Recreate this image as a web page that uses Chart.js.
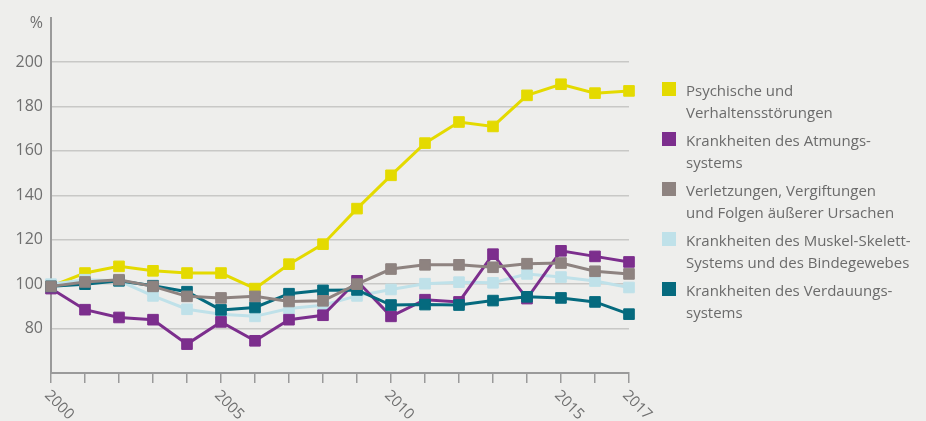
<!DOCTYPE html>
<html lang="de">
<head>
  <meta charset="UTF-8">
  <title>Arbeitsunfähigkeit nach Diagnosen</title>
  <script src="https://cdn.jsdelivr.net/npm/chart.js"></script>
  <style>
    html, body { margin: 0; padding: 0; background: #eeeeec; }
    #wrap { position: relative; width: 926px; height: 421px; font-family: "Open Sans", sans-serif; }
    #legend { position: absolute; left: 662px; top: 79px; color: #6b6b6b; font-size: 15px; }
    .item { position: relative; height: 44px; margin-bottom: 6px; padding-left: 24px; line-height: 22px; white-space: nowrap; }
    .box { position: absolute; left: 0; top: 3px; width: 14px; height: 14px; }
  </style>
</head>
<body>
<div id="wrap">
  <canvas id="chart" width="926" height="421"></canvas>
  <div id="legend"></div>
</div>
<script>
  const years = ['2000','2001','2002','2003','2004','2005','2006','2007','2008',
                 '2009','2010','2011','2012','2013','2014','2015','2016','2017'];
  const xTickLabels = ['2000', '2005', '2010', '2015', '2017'];

  const psychisch  = [99, 105, 108, 106, 105, 105, 98, 109, 118, 134, 149, 163.5, 173, 171, 185, 190, 186, 187];
  const atmung     = [98, 88.5, 85, 84, 73, 83, 74.5, 84, 86, 101.5, 85.5, 93, 92, 113.5, 93.5, 115, 112.5, 110];
  const verletzung = [99, 101, 102, 99, 94.5, 93.8, 94.5, 92.2, 92.5, 100, 106.8, 108.7, 108.7, 107.6, 109.2, 109.5, 105.8, 104.6];
  const muskel     = [100, 102, 101.5, 94.7, 88.7, 86.5, 85.5, 89, 90.5, 94.7, 97.6, 100.2, 100.9, 100.6, 104.6, 103.2, 101.4, 98.5];
  const verdauung  = [99, 100, 101.5, 99.3, 96.6, 88.4, 89.5, 95.7, 97.2, 97.4, 90.6, 90.8, 90.6, 92.6, 94.3, 93.8, 92, 86.5];

  const series = [
    { label: ['Psychische und', 'Verhaltensstörungen'], data: psychisch, color: '#e4da00', order: 4 },
    { label: ['Krankheiten des Atmungs-', 'systems'], data: atmung, color: '#7c2e8d', order: 2 },
    { label: ['Verletzungen, Vergiftungen', 'und Folgen äußerer Ursachen'], data: verletzung, color: '#8e8380', order: 0 },
    { label: ['Krankheiten des Muskel-Skelett-', 'Systems und des Bindegewebes'], data: muskel, color: '#bfe1e9', order: 3 },
    { label: ['Krankheiten des Verdauungs-', 'systems'], data: verdauung, color: '#056a7e', order: 1 }
  ];

  // legende als html, weil mehrzeilig
  const legend = document.getElementById('legend');
  series.forEach(s => {
    const div = document.createElement('div');
    div.className = 'item';
    div.innerHTML = '<span class="box" style="background:' + s.color + '"></span>' + s.label.join('<br>');
    legend.appendChild(div);
  });

  const extraLabels = {
    id: 'extraLabels',
    afterDraw(chart) {
      const ctx = chart.ctx;
      const x = chart.scales.x, y = chart.scales.y;
      ctx.save();
      ctx.fillStyle = '#6f6f6f';
      ctx.font = '16px "Open Sans"';
      ctx.textAlign = 'right';
      ctx.textBaseline = 'middle';
      ctx.fillText('%', y.right - 8, y.getPixelForValue(220) + 6);
      ctx.font = '15px "Open Sans"';
      ctx.textAlign = 'left';
      xTickLabels.forEach(l => {
        const px = x.getPixelForValue(years.indexOf(l));
        ctx.save();
        ctx.translate(px - 4, x.top + 20);
        ctx.rotate(Math.PI / 4);
        ctx.fillText(l, 0, 0);
        ctx.restore();
      });
      ctx.restore();
    }
  };

  new Chart(document.getElementById('chart'), {
    type: 'line',
    data: {
      labels: years,
      datasets: series.map(s => ({
        label: s.label.join(' '),
        data: s.data,
        order: s.order,
        borderColor: s.color,
        backgroundColor: s.color,
        borderWidth: 3,
        pointStyle: 'rect',
        pointRadius: 7.5,
        pointBorderWidth: 1,
        clip: false
      }))
    },
    options: {
      responsive: false,
      animation: false,
      layout: { padding: { top: 13, right: 297 } },
      plugins: { legend: { display: false }, tooltip: { enabled: false } },
      scales: {
        x: {
          offset: false,
          afterFit: s => { s.height = 48; },
          border: { color: '#9a9a9a', width: 2 },
          grid: { drawOnChartArea: false, tickLength: 10, color: '#9a9a9a', lineWidth: 1.5 },
          ticks: { autoSkip: false, maxRotation: 0, callback: () => '' }
        },
        y: {
          min: 60,
          max: 220,
          afterFit: s => { s.width = 51; },
          border: { color: '#9a9a9a', width: 2 },
          grid: {
            drawTicks: false,
            lineWidth: 1.5,
            color: c => (c.tick.value >= 80 && c.tick.value <= 200) ? '#c8c8c6' : 'rgba(0,0,0,0)'
          },
          ticks: {
            stepSize: 20,
            padding: 8,
            color: '#6f6f6f',
            font: { family: 'Open Sans', size: 16 },
            callback: v => (v >= 80 && v <= 200) ? v : ''
          }
        }
      }
    },
    plugins: [extraLabels]
  });
</script>
</body>
</html>
